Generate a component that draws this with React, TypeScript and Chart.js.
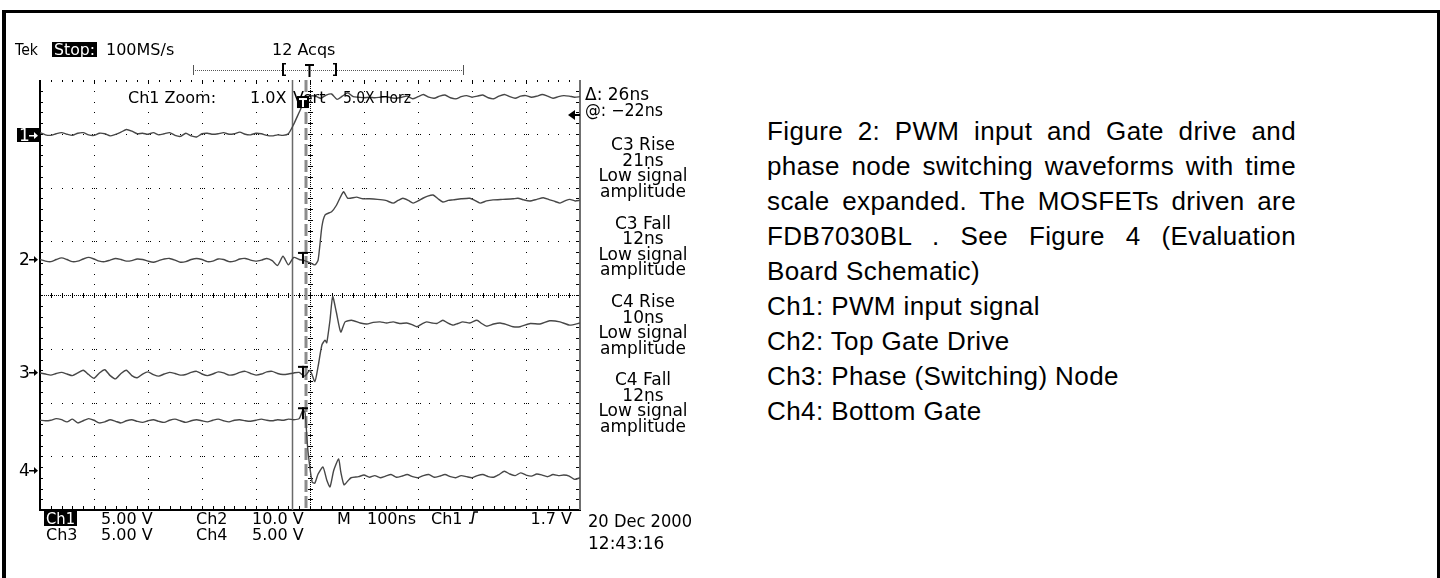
import React, { useEffect, useRef } from 'react';
import { Chart, registerables } from 'chart.js';

Chart.register(...registerables);

// ---- axes (time in ns, amplitude in screen divisions from the bottom) ----
const X_DIVS = 10;
const Y_DIVS = 8;
const TIME_MIN = 0;
const TIME_MAX = 1000;

// ---- Ch1: PWM input ----
const ch1Time = [0,10,20,30,40,50,60,70,80,90,100,110,120,130,140,150,160,170,180,190,200,210,220,230,240,250,260,270,280,290,300,310,320,330,340,350,360,370,380,390,400,410,420,430,440,450,460,470,480,490,500,510,520,530,540,550,560,570,580,590,600,610,620,630,640,650,660,670,680,690,700,710,720,730,740,750,760,770,780,790,800,810,820,830,840,850,860,870,880,890,900,910,920,930,940,950,960,970,980,990,1000];
const ch1Values = [7.02,6.98,6.97,7.00,7.02,6.99,6.97,7.01,7.02,6.98,6.97,7.01,7.00,6.96,6.99,7.03,7.08,7.05,7.00,7.01,6.99,7.02,6.98,7.00,7.02,6.97,6.95,7.01,6.96,6.94,7.00,7.01,6.99,7.00,7.02,6.99,7.00,7.03,6.99,6.98,7.01,7.00,6.97,6.96,6.98,6.97,7.00,7.18,7.40,7.61,7.70,7.70,7.66,7.72,7.74,7.64,7.70,7.76,7.69,7.68,7.67,7.68,7.67,7.68,7.69,7.67,7.66,7.68,7.70,7.65,7.69,7.73,7.68,7.66,7.70,7.72,7.67,7.65,7.69,7.71,7.68,7.70,7.72,7.67,7.65,7.70,7.73,7.69,7.66,7.70,7.71,7.68,7.70,7.73,7.70,7.66,7.69,7.71,7.70,7.68,7.69];

// ---- Ch2: top gate drive ----
const ch2Time = [0,10,20,30,40,50,60,70,80,90,100,110,120,130,140,150,160,170,180,190,200,210,220,230,240,250,260,270,280,290,300,310,320,330,340,350,360,370,380,390,400,410,420,430,440,450,460,470,480,490,500,509,515,522,528,540,549,562,570,586,598,610,625,640,654,663,672,682,691,700,709,718,728,737,746,756,765,780,796,805,815,827,839,857,876,885,896,907,920,932,944,954,963,972,981,991,1000];
const ch2Values = [4.66,4.63,4.62,4.66,4.69,4.66,4.62,4.63,4.67,4.70,4.67,4.63,4.62,4.65,4.68,4.66,4.63,4.64,4.67,4.66,4.63,4.61,4.64,4.67,4.68,4.65,4.61,4.62,4.66,4.68,4.66,4.62,4.63,4.67,4.66,4.62,4.63,4.67,4.68,4.65,4.63,4.65,4.68,4.64,4.55,4.72,4.56,4.70,4.66,4.64,4.60,4.56,4.65,5.27,5.49,5.55,5.67,5.92,5.80,5.82,5.79,5.79,5.78,5.76,5.71,5.76,5.80,5.76,5.71,5.75,5.80,5.84,5.86,5.79,5.73,5.76,5.77,5.79,5.80,5.76,5.71,5.75,5.77,5.78,5.79,5.80,5.77,5.75,5.78,5.81,5.77,5.74,5.71,5.75,5.78,5.75,5.76];

// ---- Ch3: phase (switching) node ----
const ch3Time = [0,10,20,30,40,50,60,70,80,90,100,110,120,130,140,150,160,170,180,190,200,210,220,230,240,250,260,270,280,290,300,310,320,330,340,350,360,370,380,390,400,410,420,430,440,450,460,470,480,490,500,509,515,522,528,531,537,542,549,557,565,577,593,605,617,630,642,654,666,679,689,698,707,716,726,735,746,755,765,774,783,796,809,818,827,840,852,864,876,889,908,926,944,963,981,1000];
const ch3Values = [2.55,2.53,2.51,2.54,2.56,2.53,2.50,2.55,2.60,2.52,2.45,2.55,2.61,2.50,2.44,2.54,2.60,2.50,2.46,2.53,2.57,2.52,2.49,2.53,2.56,2.54,2.51,2.52,2.56,2.58,2.53,2.50,2.53,2.57,2.55,2.51,2.52,2.56,2.58,2.54,2.51,2.53,2.57,2.58,2.54,2.52,2.53,2.55,2.56,2.49,2.60,2.39,2.67,3.07,3.16,3.11,3.53,3.97,3.67,3.31,3.50,3.53,3.48,3.46,3.49,3.50,3.48,3.50,3.47,3.48,3.45,3.41,3.46,3.50,3.48,3.47,3.53,3.48,3.44,3.47,3.50,3.48,3.53,3.47,3.42,3.46,3.48,3.45,3.41,3.41,3.47,3.46,3.52,3.50,3.44,3.48];

// ---- Ch4: bottom gate ----
const ch4Time = [0,10,20,30,40,50,60,70,80,90,100,110,120,130,140,150,160,170,180,190,200,210,220,230,240,250,260,270,280,290,300,310,320,330,340,350,360,370,380,390,400,410,420,430,440,450,460,470,480,487,491,496,504,509,515,524,531,537,544,553,557,563,570,576,590,600,610,620,630,640,650,660,670,680,690,700,710,720,730,740,750,760,770,780,790,800,810,820,830,840,850,860,870,880,890,900,910,920,930,940,950,960,970,980,990,1000];
const ch4Values = [1.67,1.66,1.67,1.70,1.68,1.64,1.69,1.62,1.66,1.70,1.67,1.62,1.64,1.68,1.65,1.62,1.66,1.68,1.65,1.63,1.66,1.68,1.65,1.63,1.67,1.69,1.66,1.63,1.66,1.68,1.66,1.64,1.67,1.69,1.66,1.64,1.67,1.68,1.66,1.65,1.67,1.69,1.67,1.66,1.68,1.67,1.69,1.68,1.70,1.86,1.80,1.12,0.52,0.50,0.67,0.80,0.56,0.43,0.74,0.95,0.71,0.47,0.54,0.60,0.62,0.65,0.61,0.64,0.60,0.63,0.66,0.61,0.63,0.66,0.62,0.60,0.64,0.66,0.61,0.63,0.66,0.62,0.60,0.64,0.62,0.60,0.64,0.66,0.62,0.61,0.66,0.72,0.67,0.64,0.69,0.65,0.63,0.67,0.65,0.62,0.66,0.64,0.65,0.63,0.57,0.60];

// ---- markers ----
const channelNames = ['1', '2', '3', '4'];
const channelGround = [6.98, 4.67, 2.57, 0.74];
const triggerMarkLevel = [7.59, 4.69, 2.57, 1.80];
const triggerTime = 487;
const cursorTimes = [467, 493];
const triggerLevelMark = 7.35;

// ---- texts ----
const headerLeft = ['Tek', 'Stop:', '100MS/s'];
const acqText = '12 Acqs';
const zoomTexts = ['Ch1 Zoom:', '1.0X', 'Vert', '5.0X Horz'];
const cursorTexts = ['\u0394: 26ns', '@: \u221222ns'];
const measureBlocks = [
  ['C3 Rise', '21ns', 'Low signal', 'amplitude'],
  ['C3 Fall', '12ns', 'Low signal', 'amplitude'],
  ['C4 Rise', '10ns', 'Low signal', 'amplitude'],
  ['C4 Fall', '12ns', 'Low signal', 'amplitude'],
];
const bottomRow1 = ['Ch1', '5.00 V', 'Ch2', '10.0 V', 'M', '100ns', 'Ch1', '1.7 V'];
const bottomRow2 = ['Ch3', '5.00 V', 'Ch4', '5.00 V'];
const dateTexts = ['20 Dec 2000', '12:43:16'];
const captionJustified = [
  'Figure 2: PWM input and Gate drive and',
  'phase node switching waveforms with time',
  'scale expanded.  The MOSFETs driven are',
  'FDB7030BL . See Figure 4  (Evaluation',
];
const captionPlain = [
  'Board Schematic)',
  'Ch1: PWM input signal',
  'Ch2: Top Gate Drive',
  'Ch3: Phase (Switching) Node',
  'Ch4: Bottom Gate',
];

const SCOPE_FONT = '16px "DejaVu Sans"';
const SCOPE_FONT_L = '17px "DejaVu Sans"';

const scopePlugin = {
  id: 'scope',
  beforeDatasetsDraw(chart: any) {
    const ctx = chart.ctx as CanvasRenderingContext2D;
    const { left, right, top, bottom } = chart.chartArea;
    const dx = (right - left) / X_DIVS;
    const dy = (bottom - top) / Y_DIVS;
    ctx.save();
    ctx.fillStyle = '#000';
    for (let i = 1; i < X_DIVS; i++) {
      const x = Math.round(left + i * dx);
      if (i === X_DIVS / 2) {
        for (let y = top; y < bottom; y += 2) ctx.fillRect(x, y, 1, 1);
        for (let k = 1; k < Y_DIVS * 5; k++) ctx.fillRect(x - 2, Math.round(top + (k * dy) / 5), 5, 1);
      } else {
        for (let k = 1; k < Y_DIVS * 5; k++) ctx.fillRect(x, Math.round(top + (k * dy) / 5), 1, 1);
      }
    }
    for (let j = 1; j < Y_DIVS; j++) {
      const y = Math.round(top + j * dy);
      if (j === Y_DIVS / 2) {
        for (let x = left; x < right; x += 2) ctx.fillRect(x, y, 1, 1);
        for (let k = 1; k < X_DIVS * 5; k++) ctx.fillRect(Math.round(left + (k * dx) / 5), y - 2, 1, 5);
      } else {
        for (let k = 1; k < X_DIVS * 5; k++) ctx.fillRect(Math.round(left + (k * dx) / 5), y, 1, 1);
        for (let i = 1; i < X_DIVS; i++) {
          const x = Math.round(left + i * dx);
          ctx.fillRect(x - 2, y, 1, 1);
          ctx.fillRect(x + 2, y, 1, 1);
        }
      }
    }
    for (let k = 1; k < X_DIVS * 5; k++) {
      const x = Math.round(left + (k * dx) / 5);
      ctx.fillRect(x, top, 1, k % 5 === 0 ? 4 : 2);
    }
    ctx.fillRect(left - 1, top, 2, bottom - top + 1);
    for (let k = 1; k < Y_DIVS * 5; k++) ctx.fillRect(left + 1, Math.round(top + (k * dy) / 5), 2, 1);
    ctx.fillRect(left - 1, bottom - 1, right - left + 2, 2);
    for (let k = 1; k < X_DIVS * 5; k++) ctx.fillRect(Math.round(left + (k * dx) / 5), bottom - 4, 1, 3);
    ctx.fillStyle = '#707070';
    ctx.fillRect(right - 1, top, 2, bottom - top);
    ctx.fillStyle = '#000';
    for (let k = 1; k < Y_DIVS * 5; k++) ctx.fillRect(right - 4, Math.round(top + (k * dy) / 5), 3, 1);

    const xs = chart.scales.x;
    const c1 = Math.round(xs.getPixelForValue(cursorTimes[0])) + 0.5;
    const c2 = Math.round(xs.getPixelForValue(cursorTimes[1]));
    ctx.strokeStyle = '#6a6a6a';
    ctx.lineWidth = 1.5;
    ctx.beginPath();
    ctx.moveTo(c1, top);
    ctx.lineTo(c1, bottom);
    ctx.stroke();
    ctx.strokeStyle = '#8c8c8c';
    ctx.lineWidth = 3;
    ctx.setLineDash([12, 4]);
    ctx.beginPath();
    ctx.moveTo(c2, top);
    ctx.lineTo(c2, bottom);
    ctx.stroke();
    ctx.setLineDash([]);
    ctx.restore();
  },
  afterDatasetsDraw(chart: any) {
    const ctx = chart.ctx as CanvasRenderingContext2D;
    const { left, right } = chart.chartArea;
    const xs = chart.scales.x;
    const ys = chart.scales.y;
    ctx.save();
    ctx.textBaseline = 'alphabetic';
    const txt = (s: string, x: number, y: number, font: string, color = '#000', align: CanvasTextAlign = 'left', maxW?: number) => {
      ctx.font = font;
      ctx.fillStyle = color;
      ctx.textAlign = align;
      if (maxW) ctx.fillText(s, x, y, maxW);
      else ctx.fillText(s, x, y);
    };
    const inverted = (s: string, x: number, y: number, font: string, maxW?: number) => {
      ctx.font = font;
      let w = ctx.measureText(s).width;
      if (maxW && w > maxW) w = maxW;
      ctx.fillStyle = '#000';
      ctx.fillRect(x - 2, y - 13, w + 4, 15);
      txt(s, x, y, font, '#fff', 'left', maxW);
    };

    txt(headerLeft[0], 15, 55, SCOPE_FONT, '#000', 'left', 23);
    inverted(headerLeft[1], 54, 55, SCOPE_FONT, 41);
    txt(headerLeft[2], 106, 55, SCOPE_FONT);
    txt(acqText, 272, 55, SCOPE_FONT);
    ctx.fillStyle = '#555';
    for (let x = 193; x <= 463; x += 2) ctx.fillRect(x, 70, 1, 1);
    ctx.fillRect(193, 65, 1, 10);
    ctx.fillRect(463, 65, 1, 10);
    ctx.fillStyle = '#000';
    ctx.fillRect(282, 63, 2, 13);
    ctx.fillRect(282, 63, 4, 1.5);
    ctx.fillRect(282, 74.5, 4, 1.5);
    ctx.fillRect(335, 63, 2, 13);
    ctx.fillRect(333, 63, 4, 1.5);
    ctx.fillRect(333, 74.5, 4, 1.5);
    ctx.fillRect(305, 64, 9, 2);
    ctx.fillRect(308.5, 64, 2, 13);

    txt(zoomTexts[0], 128, 103, SCOPE_FONT);
    txt(zoomTexts[1], 250, 103, SCOPE_FONT);
    txt(zoomTexts[2], 293, 103, SCOPE_FONT);
    txt(zoomTexts[3], 343, 103, SCOPE_FONT, '#000', 'left', 68);

    txt(cursorTexts[0], 585, 100, SCOPE_FONT_L);
    txt(cursorTexts[1], 585, 116, SCOPE_FONT_L, '#000', 'left', 78);

    const ty = Math.round(ys.getPixelForValue(triggerLevelMark));
    ctx.fillStyle = '#000';
    ctx.beginPath();
    ctx.moveTo(right - 12, ty);
    ctx.lineTo(right - 5, ty - 5);
    ctx.lineTo(right - 5, ty + 5);
    ctx.closePath();
    ctx.fill();
    ctx.fillRect(right - 6, ty - 1, 6, 2);

    const blockBase = [150, 228.5, 307, 385];
    const lineOff = [0, 15.5, 31, 46.5];
    measureBlocks.forEach((b, bi) => {
      b.forEach((s, li) => txt(s, 643, blockBase[bi] + lineOff[li], SCOPE_FONT_L, '#000', 'center'));
    });

    channelNames.forEach((n, i) => {
      const y = Math.round(ys.getPixelForValue(channelGround[i]));
      const col = i === 0 ? '#fff' : '#000';
      if (i === 0) {
        ctx.fillStyle = '#000';
        ctx.fillRect(17, y - 7, left - 17, 14);
      }
      txt(n, 19, y + 6, '17px "DejaVu Sans"', col);
      ctx.fillStyle = col;
      ctx.fillRect(29, y, 6, 1.5);
      ctx.beginPath();
      ctx.moveTo(34, y - 3);
      ctx.lineTo(38, y + 0.75);
      ctx.lineTo(34, y + 4);
      ctx.closePath();
      ctx.fill();
    });

    const tx = xs.getPixelForValue(triggerTime);
    triggerMarkLevel.forEach((v, i) => {
      const y = ys.getPixelForValue(v);
      if (i === 0) {
        ctx.fillStyle = '#000';
        ctx.fillRect(tx - 6, y - 6, 12, 12);
        ctx.fillStyle = '#fff';
        ctx.fillRect(tx - 4, y - 4, 8, 2);
        ctx.fillRect(tx - 1, y - 4, 2, 9);
      } else {
        ctx.fillStyle = '#000';
        ctx.fillRect(tx - 5, y - 6, 10, 2);
        ctx.fillRect(tx - 1, y - 6, 2, 12);
      }
    });

    inverted(bottomRow1[0], 46, 524, SCOPE_FONT, 29);
    const r1x = [46, 101, 196, 252, 337, 367, 431];
    for (let i = 1; i < 7; i++) txt(bottomRow1[i], r1x[i], 524, SCOPE_FONT);
    txt(bottomRow1[7], 572, 524, SCOPE_FONT, '#000', 'right');
    ctx.strokeStyle = '#000';
    ctx.lineWidth = 1.5;
    ctx.beginPath();
    ctx.moveTo(469, 523);
    ctx.lineTo(472, 523);
    ctx.lineTo(474, 512);
    ctx.lineTo(478, 512);
    ctx.stroke();
    const r2x = [46, 101, 196, 252];
    bottomRow2.forEach((s, i) => txt(s, r2x[i], 540, SCOPE_FONT));
    txt(dateTexts[0], 588, 527, SCOPE_FONT_L, '#000', 'left', 104);
    txt(dateTexts[1], 588, 549, SCOPE_FONT_L);
    ctx.restore();
  },
};

function makeData(t: number[], v: number[]) {
  return t.map((x, i) => ({ x, y: v[i] }));
}

function ScopeChart() {
  const ref = useRef<HTMLCanvasElement | null>(null);
  useEffect(() => {
    if (!ref.current) return;
    const ds = (d: any) => ({
      data: d,
      borderColor: '#474747',
      borderWidth: 1.4,
      pointRadius: 0,
      tension: 0.2,
      fill: false,
    });
    const chart = new Chart(ref.current, {
      type: 'line',
      data: {
        datasets: [
          ds(makeData(ch1Time, ch1Values)),
          ds(makeData(ch2Time, ch2Values)),
          ds(makeData(ch3Time, ch3Values)),
          ds(makeData(ch4Time, ch4Values)),
        ],
      },
      options: {
        animation: false,
        responsive: false,
        devicePixelRatio: 1,
        layout: { padding: { left: 40, top: 80, right: 160, bottom: 68 } },
        scales: {
          x: { type: 'linear', min: TIME_MIN, max: TIME_MAX, display: false },
          y: { type: 'linear', min: 0, max: Y_DIVS, display: false },
        },
        plugins: { legend: { display: false }, tooltip: { enabled: false } },
        events: [],
      },
      plugins: [scopePlugin],
    } as any);
    return () => chart.destroy();
  }, []);
  return (
    <canvas ref={ref} width={740} height={578} style={{ position: 'absolute', left: 0, top: 0 }} />
  );
}

export default function App() {
  const cap: React.CSSProperties = {
    fontFamily: '"Liberation Sans", Arial, sans-serif',
    fontSize: 26,
    letterSpacing: '0.4px',
    lineHeight: '35px',
    color: '#000',
    width: 529,
    whiteSpace: 'nowrap',
  };
  return (
    <div style={{ position: 'absolute', left: 0, top: 0, width: 1440, height: 578, overflow: 'hidden', background: '#fff' }}>
      <div
        style={{
          position: 'absolute',
          left: 2,
          top: 10,
          width: 1438,
          height: 568,
          boxSizing: 'border-box',
          borderTop: '3px solid #000',
          borderLeft: '4px solid #000',
          borderRight: '3px solid #000',
        }}
      />
      <ScopeChart />
      <div style={{ position: 'absolute', left: 767, top: 114 }}>
        {captionJustified.map((s) => (
          <div key={s} style={{ ...cap, whiteSpace: 'normal', textAlign: 'justify', textAlignLast: 'justify' }}>{s}</div>
        ))}
        {captionPlain.map((s) => (
          <div key={s} style={cap}>{s}</div>
        ))}
      </div>
    </div>
  );
}
